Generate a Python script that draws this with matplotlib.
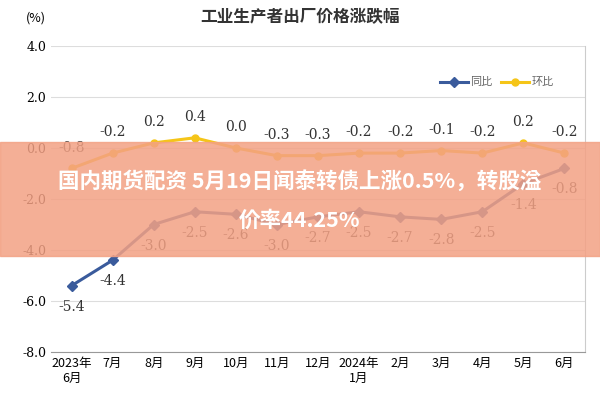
import matplotlib.pyplot as plt
from matplotlib import font_manager

names = {f.name for f in font_manager.fontManager.ttflist}
cjk = [n for n in ['Noto Sans CJK SC', 'Noto Sans CJK JP', 'Noto Sans CJK TC'] if n in names]
plt.rcParams['font.family'] = cjk[:1] + ['DejaVu Sans']

months = ['2023年\n6月', '7月', '8月', '9月', '10月', '11月', '12月', '2024年\n1月',
          '2月', '3月', '4月', '5月', '6月']
yoy = [-5.4, -4.4, -3.0, -2.5, -2.6, -3.0, -2.7, -2.5, -2.7, -2.8, -2.5, -1.4, -0.8]
mom = [-0.8, -0.2, 0.2, 0.4, 0.0, -0.3, -0.3, -0.2, -0.2, -0.1, -0.2, 0.2, -0.2]

fig = plt.figure(figsize=(6, 4), dpi=100)
ax = fig.add_axes([0.085, 0.12, 0.89, 0.765])
x = list(range(len(months)))

ax.plot(x, yoy, color='#3a5b9c', lw=2.2, marker='D', ms=5, label='同比')
ax.plot(x, mom, color='#f5c518', lw=2.2, marker='o', ms=5, label='环比')

for i, v in enumerate(yoy):
    ax.annotate(f'{v:.1f}', (i, v), xytext=(0, -18), textcoords='offset points',
                ha='center', fontsize=10, family='serif', color='#333333')
for i, v in enumerate(mom):
    ax.annotate(f'{v:.1f}', (i, v), xytext=(0, 12), textcoords='offset points',
                ha='center', fontsize=10, family='serif', color='#333333')

ax.set_ylim(-8, 4)
ax.set_xlim(-0.5, 12.5)
ticks = [-8, -6, -4, -2, 0, 2, 4]
ax.set_yticks(ticks)
ax.set_yticklabels([f'{t:.1f}' for t in ticks], family='serif', fontsize=9)
ax.set_xticks(x)
ax.set_xticklabels(months, fontsize=9)
ax.grid(axis='y', color='#dddddd', lw=0.8)
ax.tick_params(length=0)
for s in ['top', 'left']:
    ax.spines[s].set_visible(False)
ax.spines['right'].set_color('#cccccc')
ax.spines['bottom'].set_color('#999999')
ax.legend(loc='upper right', bbox_to_anchor=(0.96, 0.93), ncol=2, frameon=False,
          fontsize=8, handlelength=2.5, columnspacing=0.8, handletextpad=0.2,
          labelcolor='#666666')

fig.text(0.5, 0.945, '工业生产者出厂价格涨跌幅', ha='center', fontsize=12, weight='bold', color='#333333')
fig.text(0.06, 0.945, '(%)', ha='center', fontsize=9)

# overlay banner
fig.patches.append(plt.Rectangle((0, 0.36), 1, 0.285, transform=fig.transFigure,
                                 color='#f3a184', alpha=0.85, zorder=5))
fig.text(0.5, 0.548, '国内期货配资 5月19日闻泰转债上涨0.5%，转股溢', ha='center', va='center',
         fontsize=15.5, weight='bold', color='white', zorder=6)
fig.text(0.5, 0.45, '价率44.25%', ha='center', va='center',
         fontsize=15.5, weight='bold', color='white', zorder=6)

fig.savefig('out.png')
